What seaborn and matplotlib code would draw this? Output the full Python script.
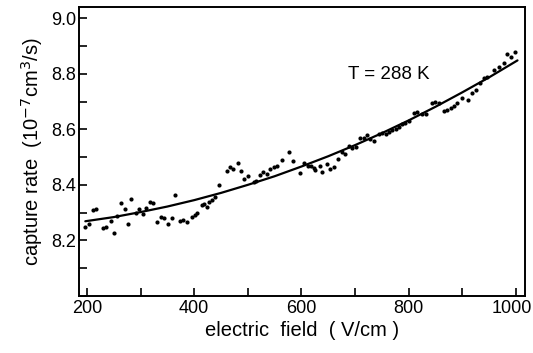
import matplotlib
matplotlib.use("Agg")
import matplotlib.pyplot as plt
from matplotlib.ticker import MultipleLocator, FormatStrFormatter
from matplotlib.transforms import ScaledTranslation
import seaborn as sns
import pandas as pd

# measured points: electric field (V/cm) and capture rate (1e-7 cm^3/s)
field = [197, 204, 211, 217, 230, 236, 245, 250, 257, 263, 271, 277, 282, 291,
         297, 304, 311, 318, 323, 331, 338, 344, 352, 358, 364, 374, 380, 386,
         396, 402, 406, 414, 419, 424, 428, 434, 439, 447, 461, 467, 473, 481,
         488, 493, 501, 511, 515, 523, 528, 535, 542, 548, 554, 564, 577, 584,
         597, 604, 612, 618, 623, 626, 634, 639, 647, 654, 660, 668, 676, 681,
         688, 695, 701, 710, 716, 723, 728, 736, 744, 751, 757, 763, 769, 776,
         782, 788, 794, 800, 810, 816, 825, 832, 844, 850, 856, 866, 872, 879,
         885, 891, 900, 911, 918, 925, 933, 941, 947, 959, 969, 977, 984, 991,
         998]
rate = [8.249, 8.260, 8.310, 8.314, 8.243, 8.249, 8.270, 8.225, 8.287, 8.335,
        8.314, 8.260, 8.350, 8.300, 8.314, 8.294, 8.318, 8.338, 8.335, 8.267,
        8.285, 8.281, 8.258, 8.281, 8.365, 8.270, 8.274, 8.267, 8.285, 8.290,
        8.300, 8.326, 8.332, 8.320, 8.338, 8.346, 8.356, 8.398, 8.449, 8.463,
        8.457, 8.477, 8.451, 8.421, 8.433, 8.410, 8.413, 8.437, 8.445, 8.439,
        8.457, 8.463, 8.469, 8.488, 8.517, 8.487, 8.443, 8.479, 8.467, 8.469,
        8.461, 8.455, 8.467, 8.445, 8.475, 8.457, 8.465, 8.493, 8.517, 8.510,
        8.540, 8.531, 8.537, 8.570, 8.570, 8.580, 8.564, 8.558, 8.582, 8.586,
        8.582, 8.590, 8.597, 8.600, 8.610, 8.618, 8.624, 8.630, 8.660, 8.662,
        8.654, 8.656, 8.695, 8.699, 8.695, 8.665, 8.671, 8.677, 8.683, 8.695,
        8.713, 8.707, 8.731, 8.743, 8.767, 8.785, 8.790, 8.814, 8.826, 8.840,
        8.870, 8.862, 8.880]

# fitted curve
fit_field = [197, 250, 300, 350, 400, 450, 500, 550, 600, 650, 700, 750, 800,
             850, 900, 950, 1003]
fit_rate = [8.269, 8.284, 8.302, 8.322, 8.345, 8.371, 8.400, 8.431, 8.466,
            8.503, 8.543, 8.586, 8.632, 8.681, 8.733, 8.787, 8.848]

xticks = [200, 400, 600, 800, 1000]
yticks = [8.2, 8.4, 8.6, 8.8, 9.0]

pts = pd.DataFrame({"field": field, "rate": rate})
fit = pd.DataFrame({"field": fit_field, "rate": fit_rate})

sns.set_style("ticks")
plt.rcParams["font.family"] = ["Liberation Sans", "DejaVu Sans"]
plt.rcParams["text.color"] = "black"
plt.rcParams["axes.labelcolor"] = "black"
plt.rcParams["xtick.color"] = "black"
plt.rcParams["ytick.color"] = "black"
plt.rcParams["axes.edgecolor"] = "black"

fig = plt.figure(figsize=(5.33, 3.53), dpi=100)
ax = fig.add_axes([0.148, 0.1615, 0.837, 0.8185])

sns.lineplot(data=fit, x="field", y="rate", ax=ax, color="black", lw=1.6,
             sort=False)
sns.scatterplot(data=pts, x="field", y="rate", ax=ax, color="black", s=9,
                linewidth=0)

ax.set_xlim(185, 1017)
ax.set_ylim(8.0, 9.04)
ax.set_xticks(xticks)
ax.set_yticks(yticks)
ax.xaxis.set_minor_locator(MultipleLocator(100))
ax.yaxis.set_minor_locator(MultipleLocator(0.1))
ax.yaxis.set_major_formatter(FormatStrFormatter("%.1f"))
ax.tick_params(which="both", direction="in", length=6, width=1.2,
               labelsize=13, top=False, right=False)
ax.tick_params(axis="x", pad=3)
ax.tick_params(axis="y", pad=2)
for sp in ax.spines.values():
    sp.set_linewidth(1.4)
    sp.set_visible(True)

# nudge the last x tick label left so it stays inside the figure
last = ax.xaxis.get_major_ticks()[-1].label1
last.set_transform(last.get_transform()
                   + ScaledTranslation(-4 / 100, 0, fig.dpi_scale_trans))

ax.set_xlabel("electric  field  ( V/cm )", fontsize=14.5, labelpad=3)
ax.set_ylabel(r"capture rate  (10$^{-7}$cm$^{3}$/s)", fontsize=14.5, labelpad=4)
ax.text(763, 8.796, "T = 288 K", fontsize=13.5, ha="center", va="center")

fig.savefig("out.png", dpi=100)
